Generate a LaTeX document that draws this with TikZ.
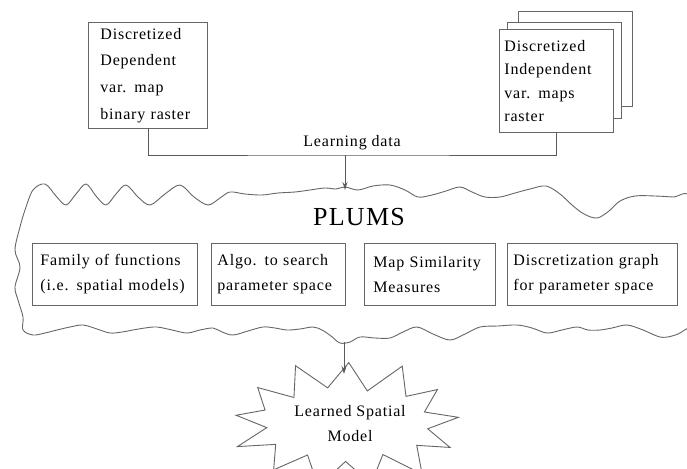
\documentclass[tikz,border=0pt]{standalone}
\usepackage{fontspec}
\setmainfont{Liberation Serif}[LetterSpace=5]
\usetikzlibrary{arrows.meta}
\begin{document}
\begin{tikzpicture}[x=1pt,y=-1pt,
  line/.style={draw=black!60, line width=0.9pt},
  box/.style={line, fill=white, inner ysep=0pt, anchor=north west, align=left},
  conn/.style={draw=black!65, line width=0.9pt},
  arr/.style={conn, -{Stealth[length=8pt,width=5pt]}},
  txt/.style={font=\fontsize{16}{25}\selectfont}
]
\useasboundingbox (0,0) rectangle (687,468);
\clip (0,0) rectangle (687,468);

% input boxes
\node[box, txt, font=\fontsize{16}{26.7}\selectfont, inner xsep=12pt, text width=95pt, minimum width=119pt, minimum height=106pt] (dep) at (88,22)
  {Discretized\\Dependent\\var. map\\binary raster};
\node[box, minimum width=114pt, minimum height=95pt] (back) at (518,11) {};
\node[box, minimum width=114pt, minimum height=96pt] (mid) at (507,22) {};
\node[box, font=\fontsize{16}{23.3}\selectfont, inner xsep=5pt, text width=104pt, minimum width=114pt, minimum height=103pt] (ind) at (499,29)
  {Discretized\\Independent\\var. maps\\raster};

% learning data connector
\coordinate (join) at (345,155);
\coordinate (plumstop) at (345,190);
\draw[conn] (dep.south) |- (join) -| (ind.south);
\node[txt] (ld) at (352,143) {Learning data};

% PLUMS wavy outline
\draw[line] plot[smooth cycle, tension=0.55] coordinates {
 (33,190) (45,184) (56,196) (66,205) (76,194) (86,184) (96,196) (106,205) (116,194) (126,185) (138,197) (150,205) (165,194) (180,185) (194,197) (208,205) (220,198) (230,192)
 (245,194) (262,195) (278,193) (295,192) (310,190) (325,188) (336,189) (345,187) (358,190) (373,186) (390,185) (405,190) (418,197) (432,195) (446,191) (460,187) (472,192) (485,197) (500,197) (515,193) (530,189) (546,186) (560,194) (572,205) (584,214) (597,218) (609,211) (620,201) (635,196) (655,196) (673,197) (690,198)
 (693,260) (690,320) (683,331)
 (672,336) (660,337) (643,330) (627,325) (612,328) (600,330) (588,330) (577,327) (562,330) (547,333) (532,328) (517,325) (498,326) (480,327) (465,334) (450,340) (433,334) (417,327) (403,332) (390,338) (375,338) (360,337) (350,342) (340,343) (331,336) (322,330) (313,327) (300,329) (287,330) (275,328) (263,327) (248,331) (233,335) (222,332) (213,328) (200,330) (187,333) (172,330) (157,327) (145,328) (133,330) (122,332) (110,333) (97,329) (83,325) (70,327) (57,330) (45,333) (33,335)
 (23,330) (23,317) (18,300) (15,287) (20,267) (15,250) (20,227) (25,210)
};
\draw[arr] (join) -- (plumstop);

\node[font=\fontsize{26}{30}\selectfont] (plums) at (359,217) {PLUMS};

\node[box, txt, inner xsep=8pt, text width=149pt, minimum width=165pt, minimum height=62pt] (fam) at (32,243)
  {Family of functions\\(i.e. spatial models)};
\node[box, txt, inner xsep=6pt, text width=122pt, minimum width=134pt, minimum height=62pt] (algo) at (211,243)
  {Algo. to search\\parameter space};
\node[box, txt, inner xsep=9pt, text width=113pt, minimum width=131pt, minimum height=62pt] (sim) at (364,243)
  {Map Similarity\\Measures};
\node[box, txt, inner xsep=6pt, text width=158pt, minimum width=170pt, minimum height=62pt] (disc) at (507,243)
  {Discretization graph\\for parameter space};

% learned model starburst
\foreach \r [count=\i from 0] in {1.00,0.98,0.97,1.04,1.03,0.95,0.96,1.03,1.02,0.97,0.98,1.05,1.00,0.96,1.04,1.02,0.97,0.98,1.01,1.04,0.96,0.95,1.03,1.02,0.99,0.97}{
  \pgfmathsetmacro{\rx}{ifthenelse(mod(\i,2)==0,112,84)*\r}
  \pgfmathsetmacro{\ry}{ifthenelse(mod(\i,2)==0,64,36)*\r}
  \coordinate (s\i) at ({347+\rx*cos(\i*13.846+6)},{424-\ry*sin(\i*13.846+6)});
}
\draw[line, fill=white] (s0) \foreach \i in {1,...,25}{ -- (s\i)} -- cycle;
\node[txt, align=center] (learned) at (350,424) {Learned Spatial\\Model};
\coordinate (plumsbot) at (344,342);
\coordinate (starin) at (344,374);
\draw[arr] (plumsbot) -- (starin);
\end{tikzpicture}
\end{document}
